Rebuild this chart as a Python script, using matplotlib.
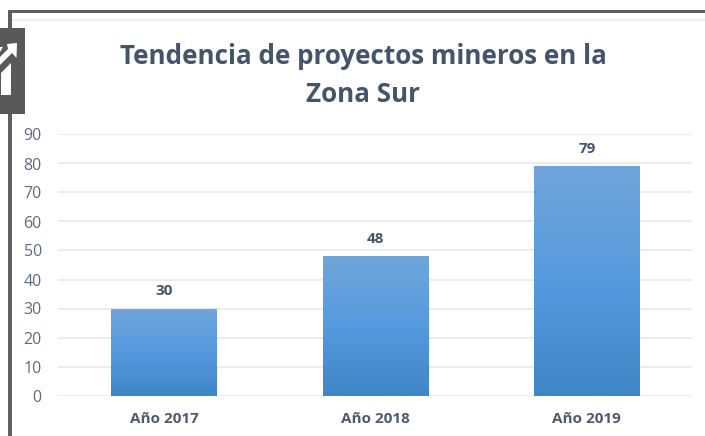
import numpy as np
import matplotlib
matplotlib.use("Agg")
import matplotlib.pyplot as plt
from matplotlib.colors import LinearSegmentedColormap
from matplotlib.patches import Polygon, Rectangle

# Data
categories = ["Año 2017", "Año 2018", "Año 2019"]
values = [30, 48, 79]
y_ticks = [0, 10, 20, 30, 40, 50, 60, 70, 80, 90]
title = "Tendencia de proyectos mineros en la\nZona Sur"

W, H = 705, 436
plt.rcParams["font.family"] = ["Open Sans", "DejaVu Sans"]

fig = plt.figure(figsize=(W / 100, H / 100), dpi=100, facecolor="white")

# Background layer in pixel coordinates: frame and arrow icon
bg = fig.add_axes([0, 0, 1, 1])
bg.set_xlim(0, W)
bg.set_ylim(H, 0)
bg.axis("off")
bg.add_patch(Rectangle((8, 10), 3.5, H - 10, color="#5f5f5f", lw=0))
bg.add_patch(Rectangle((8, 10), W - 8, 3.5, color="#5f5f5f", lw=0))
bg.add_patch(Rectangle((12, 19.5), W - 12, 1.2, color="#f1f2f4", lw=0))
bg.add_patch(Rectangle((0, 28), 25, 86, color="#58595b", lw=0))
# arrow head and diagonal
bg.add_patch(Polygon([(7, 44), (17, 43), (16.5, 58), (12, 53), (0, 65), (0, 57), (8, 49)],
                     color="white", lw=0))
bg.add_patch(Polygon([(0, 47), (3, 47), (0, 52)], color="white", lw=0))
# stem
bg.add_patch(Polygon([(1, 73), (11, 63), (11, 95), (1, 95)], color="white", lw=0))

# Chart
ax = fig.add_axes([58.5 / W, 1 - 395.5 / H, (692.5 - 58.5) / W, (395.5 - 134.5) / H])
ax.patch.set_alpha(0)
x = np.arange(len(categories))

bars = ax.bar(x, values, width=0.5, color="#5b9bd5", linewidth=0, zorder=2)

# Vertical gradient inside each bar
grad = LinearSegmentedColormap.from_list("bar", ["#3f86c6", "#559ade", "#70a5da"])
for b in bars:
    im = ax.imshow(np.linspace(0, 1, 128).reshape(-1, 1), cmap=grad, origin="lower",
                   aspect="auto", zorder=3,
                   extent=(b.get_x(), b.get_x() + b.get_width(), 0, b.get_height()))
    im.set_clip_path(b)
ax.set_xlim(-0.5, 2.5)
ax.set_ylim(0, 90)

for xi, v in zip(x, values):
    ax.annotate(str(v), (xi, v), xytext=(0, 7.5), textcoords="offset points", ha="center",
                va="bottom", fontsize=11, fontweight="bold", color="#44546a")

ax.set_yticks(y_ticks)
ax.set_xticks(x, categories)
ax.grid(axis="y", color="#e9ebef", linewidth=1.3, zorder=0)
ax.set_axisbelow(True)
for s in ax.spines.values():
    s.set_visible(False)
ax.tick_params(axis="both", length=0)
ax.tick_params(axis="y", labelsize=11.5, labelcolor="#5b6b82", pad=12)
ax.tick_params(axis="x", labelsize=11, labelcolor="#4f5b6d", pad=12)
for lbl in ax.get_xticklabels():
    lbl.set_fontweight("bold")

fig.text(363.5 / W, 1 - 75.5 / H, title, ha="center", va="center", fontsize=18.7,
         fontweight="bold", color="#44546a", linespacing=1.5)

fig.savefig("out.png", dpi=100)
